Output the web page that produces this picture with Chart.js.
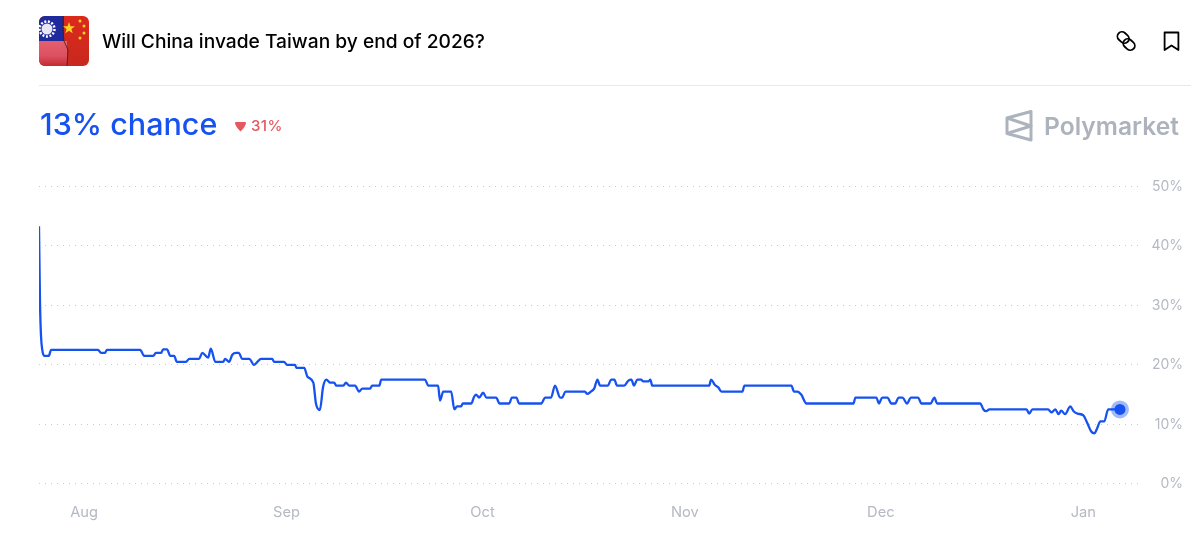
<!DOCTYPE html>
<html>
<head>
<meta charset="utf-8">
<title>Will China invade Taiwan by end of 2026?</title>
<script src="https://cdn.jsdelivr.net/npm/chart.js@4"></script>
<style>
html, body { margin: 0; padding: 0; background: #fff; overflow: hidden; }
body { width: 1200px; height: 547px; position: relative; font-family: Inter, "Noto Sans", sans-serif; }
#chart { position: absolute; left: 0; top: 0; }
.abs { position: absolute; white-space: nowrap; }
#title { left: 102px; top: 29px; font-size: 19.2px; line-height: 24px; font-weight: 500; color: #000; }
#rule { left: 39px; top: 85px; width: 1152px; height: 1px; background: #e9e9ea; }
#chance { left: 40px; top: 104px; font-size: 30.5px; line-height: 40px; font-weight: 500; color: #1652f0; }
#delta { left: 251px; top: 117px; font-size: 15px; line-height: 18px; font-weight: 500; letter-spacing: .4px; color: #e5585f; }
#brand { left: 1044px; top: 110px; font-size: 24.6px; line-height: 32px; font-weight: 600; color: #adb3bd; }
</style>
</head>
<body>
<canvas id="chart" width="1200" height="547"></canvas>

<svg class="abs" style="left:39px;top:16px" width="50" height="50" viewBox="0 0 50 50">
  <defs>
    <clipPath id="round"><rect width="50" height="50" rx="6"/></clipPath>
    <linearGradient id="pink" x1="0" y1="0" x2="0" y2="1"><stop offset="0" stop-color="#e4606c"/><stop offset=".6" stop-color="#dc5060"/><stop offset="1" stop-color="#c42a32"/></linearGradient>
    <linearGradient id="red" x1="0" y1="0" x2="0" y2="1"><stop offset="0" stop-color="#dc2a1c"/><stop offset="1" stop-color="#c8281e"/></linearGradient>
  </defs>
  <g clip-path="url(#round)">
    <rect width="50" height="50" fill="url(#red)"/>
    <rect width="25" height="25" fill="#1f2a9c"/>
    <rect y="25" width="28" height="25" fill="url(#pink)"/>
    <path d="M24 0 L24 14 L25 25 L29 34 L28 50" fill="none" stroke="#4a1c20" stroke-width=".8"/>
    <circle cx="8" cy="13" r="7.5" fill="none" stroke="#fff" stroke-width="2.5" stroke-dasharray="2 1.6"/>
    <circle cx="8" cy="13" r="5.5" fill="#e8e8f4"/>
    <polygon points="30,6 31.5,10.2 36,10.2 32.4,13 33.7,17.3 30,14.7 26.3,17.3 27.6,13 24,10.2 28.5,10.2" fill="#f8d320"/>
    <circle cx="41" cy="5" r="1.5" fill="#f8d320"/>
    <circle cx="45" cy="10" r="1.5" fill="#f8d320"/>
    <circle cx="45" cy="17" r="1.5" fill="#f8d320"/>
    <circle cx="41" cy="22" r="1.5" fill="#f8d320"/>
  </g>
</svg>
<div id="title" class="abs">Will China invade Taiwan by end of 2026?</div>

<svg class="abs" style="left:1114px;top:29px" width="24" height="24" viewBox="0 0 24 24" fill="none" stroke="#000" stroke-width="1.8">
  <rect x="3" y="4" width="12.5" height="9" rx="4.5" transform="rotate(42 9.2 8.5)"/>
  <rect x="8.8" y="11" width="12.5" height="9" rx="4.5" transform="rotate(42 15 15.5)"/>
</svg>
<svg class="abs" style="left:1160px;top:29px" width="24" height="24" viewBox="0 0 24 24" fill="none" stroke="#000" stroke-width="1.8" stroke-linejoin="round">
  <path d="M4.6 3.5 H18.4 V21 L11.5 16.5 L4.6 21 Z"/>
</svg>
<div id="rule" class="abs"></div>

<div id="chance" class="abs">13% chance</div>
<svg class="abs" style="left:234px;top:121px" width="13" height="12" viewBox="0 0 13 12">
  <path d="M1 1.5 Q1 1 2 1 H11 Q12 1 12 1.5 Q12 5 6.5 10.5 Q1 5 1 1.5 Z" fill="#e5585f"/>
</svg>
<div id="delta" class="abs">31%</div>

<svg class="abs" style="left:1004px;top:109px" width="30" height="34" viewBox="0 0 30 34" fill="none" stroke="#adb3bd" stroke-width="3" stroke-linejoin="round">
  <path d="M3 9 L27 2.5 V31 L3 24.5 Z"/>
  <path d="M3 9 L27 17 L3 24.5"/>
</svg>
<div id="brand" class="abs">Polymarket</div>

<script>
// days counted from 1 Aug
var days = [-6.9, -6.74, -6.6, -6.4, -6.1, -5.4, -5.05, 2.14, 2.6, 3.2, 3.5, 8.6, 9.2, 10.6, 11.0, 11.8, 12.1, 12.7, 13.2, 13.8,
    14.2, 15.6, 16.1, 17.6, 18.1, 19.0, 19.4, 20.1, 21.3, 21.6, 22.2, 22.7, 23.3, 23.7, 24.2, 25.3, 26.0, 27.1, 28.8, 29.1,
    30.6, 31.1, 32.3, 32.5, 33.7, 34.2, 35.1, 35.5, 36.1, 36.6, 37.1, 37.7, 38.3, 38.6, 39.7, 40.1, 40.6, 41.5, 42.1, 42.6,
    43.8, 44.1, 45.2, 45.5, 52.2, 52.7, 54.2, 54.5, 55.0, 56.2, 56.7, 57.1, 57.7, 58.0, 59.3, 59.7, 60.0, 60.5, 61.1, 61.6,
    63.1, 63.6, 65.1, 65.5, 66.2, 66.6, 70.0, 70.6, 71.5, 72.1, 72.9, 73.2, 73.7, 76.7, 77.0, 77.6, 78.1, 78.6, 79.0, 80.2,
    80.7, 81.2, 81.6, 82.7, 83.3, 83.8, 84.2, 84.7, 85.3, 85.6, 86.4, 86.7, 87.0, 95.7, 96.0, 96.6, 97.1, 97.6, 100.8, 101.1,
    108.3, 108.7, 109.2, 109.8, 110.6, 117.8, 118.1, 121.3, 121.7, 122.2, 123.0, 123.6, 124.2, 124.7, 125.3, 126.0, 126.6, 127.7, 128.2, 129.6,
    130.2, 130.6, 137.2, 137.7, 138.1, 138.6, 144.3, 144.7, 145.2, 147.6, 148.1, 148.7, 149.2, 149.6, 150.2, 151.0, 151.5, 152.1, 153.0, 153.6,
    154.2, 154.7, 155.1, 155.6, 156.2, 156.8, 158.0, 158.3, 158.6];
var chance = [43.3, 30, 25, 22.5, 21.5, 21.5, 22.5, 22.5, 22, 22, 22.5, 22.5, 21.5, 21.5, 22, 22, 22.6, 22.6, 21.5, 21.5,
    20.5, 20.5, 21, 21, 22, 21.2, 22.7, 20.5, 20.5, 21, 20.5, 21.7, 22, 22, 21, 21, 20, 21, 21, 20.5,
    20.5, 20, 20, 19.5, 19.5, 18, 17, 13.5, 12.4, 16.3, 17.5, 17, 17, 16.5, 16.5, 17, 16.5, 16.5, 15.5, 16,
    16, 16.5, 16.5, 17.5, 17.5, 16.5, 16.5, 14, 15.5, 15.5, 12.5, 13, 13, 13.5, 13.5, 14.6, 15, 14.5, 15.3, 14.5,
    14.5, 13.5, 13.5, 14.5, 14.5, 13.5, 13.5, 14.5, 14.5, 16.5, 14.5, 14.5, 15.5, 15.5, 15.1, 15.5, 16, 17.5, 16.5, 16.5,
    17.5, 17.5, 16.5, 16.5, 17.3, 17.5, 16.5, 17.5, 17.5, 17.2, 17.2, 17.5, 16.5, 16.5, 17.5, 16.6, 16.2, 15.5, 15.5, 16.5,
    16.5, 15.5, 15.5, 15, 13.5, 13.5, 14.5, 14.5, 13.5, 14.5, 14.5, 13.5, 13.5, 14.5, 14.5, 13.5, 14.5, 14.5, 13.5, 13.5,
    14.5, 13.5, 13.5, 12.5, 12.2, 12.5, 12.5, 11.8, 12.5, 12.5, 12, 12.5, 11.7, 12.3, 11.7, 13, 12.2, 11.8, 11.5, 10.2,
    8.8, 8.5, 9.3, 10.5, 10.5, 12.5, 12.5, 13, 12.5];
var monthDays = [0, 31, 61, 92, 122, 153];
var monthLabels = ['Aug', 'Sep', 'Oct', 'Nov', 'Dec', 'Jan'];
var yTicks = [0, 10, 20, 30, 40, 50];

var points = days.map(function (d, i) { return { x: d, y: chance[i] }; });

new Chart(document.getElementById('chart'), {
    type: 'line',
    data: {
        datasets: [
            {
                data: points,
                borderColor: '#1652f0',
                borderWidth: 2.3,
                cubicInterpolationMode: 'monotone',
                pointRadius: 0
            },
            {
                data: points.slice(-1),
                showLine: false,
                pointRadius: 9,
                pointBorderWidth: 0,
                pointBackgroundColor: 'rgba(22,82,240,0.4)'
            },
            {
                data: points.slice(-1),
                showLine: false,
                pointRadius: 5.5,
                pointBorderWidth: 0,
                pointBackgroundColor: '#1652f0'
            }
        ]
    },
    options: {
        responsive: false,
        animation: false,
        devicePixelRatio: 1,
        layout: { padding: { top: 186.3, left: 39, right: 17, bottom: 0 } },
        plugins: { legend: { display: false }, tooltip: { enabled: false } },
        scales: {
            x: {
                type: 'linear',
                min: -6.9,
                max: 161.9,
                grid: { display: false },
                border: { display: false },
                afterBuildTicks: function (scale) {
                    scale.ticks = monthDays.map(function (d) { return { value: d }; });
                },
                afterFit: function (scale) { scale.height = 63.2; },
                ticks: {
                    autoSkip: false,
                    maxRotation: 0,
                    padding: 12,
                    color: '#b4b9c2',
                    font: { family: 'Inter', size: 14.7 },
                    callback: function (value) { return monthLabels[monthDays.indexOf(value)]; }
                }
            },
            y: {
                position: 'right',
                min: 0,
                max: 50,
                grid: { color: '#c6cad0', lineWidth: 1, drawTicks: false },
                border: { display: false, dash: [1, 5] },
                afterBuildTicks: function (scale) {
                    scale.ticks = yTicks.map(function (v) { return { value: v }; });
                },
                afterFit: function (scale) { scale.width = 41.5; },
                ticks: {
                    padding: 12,
                    crossAlign: 'far',
                    color: '#b4b9c2',
                    font: { family: 'Inter', size: 14 },
                    callback: function (value) { return value + '%'; }
                }
            }
        }
    }
});
</script>
</body>
</html>
